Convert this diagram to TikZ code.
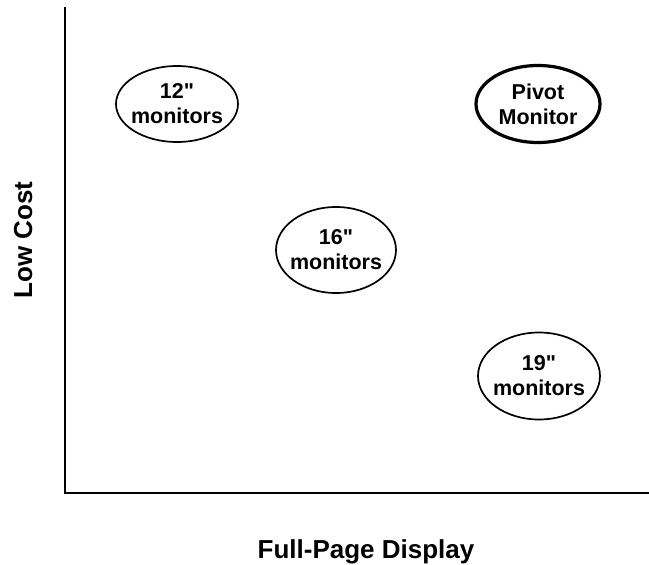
\documentclass[tikz,border=0pt]{standalone}
\usepackage{fontspec}
\setmainfont{Liberation Sans}
\usetikzlibrary{shapes.geometric}
\tikzset{
  bubble/.style={draw, ellipse, line width=1.7pt, inner xsep=-8pt, inner ysep=0pt,
    align=center, font=\bfseries\fontsize{21.5}{25}\selectfont},
  axislabel/.style={anchor=base, font=\bfseries\fontsize{26}{30}\selectfont}
}
\begin{document}
\begin{tikzpicture}[x=1pt,y=-1pt]
\useasboundingbox (0,0) rectangle (649,565);
\coordinate (top) at (65,7);
\coordinate (origin) at (65,493);
\coordinate (right) at (649,493);
\draw[line width=2.2pt] (top) -- (origin) -- (right);
\node[bubble, minimum width=122pt, minimum height=76pt] (twelve) at (177,104) {12\textquotedbl\\monitors};
\node[bubble, line width=3.2pt, minimum width=124pt, minimum height=77pt] (pivot) at (538,104) {Pivot\\Monitor};
\node[bubble, minimum width=120pt, minimum height=86pt] (sixteen) at (336,250) {16\textquotedbl\\monitors};
\node[bubble, minimum width=122pt, minimum height=87pt] (nineteen) at (539,376) {19\textquotedbl\\monitors};
\node[axislabel, rotate=90] (cost) at (32,240) {Low Cost};
\node[axislabel] (display) at (366,558) {Full-Page Display};
\end{tikzpicture}
\end{document}
